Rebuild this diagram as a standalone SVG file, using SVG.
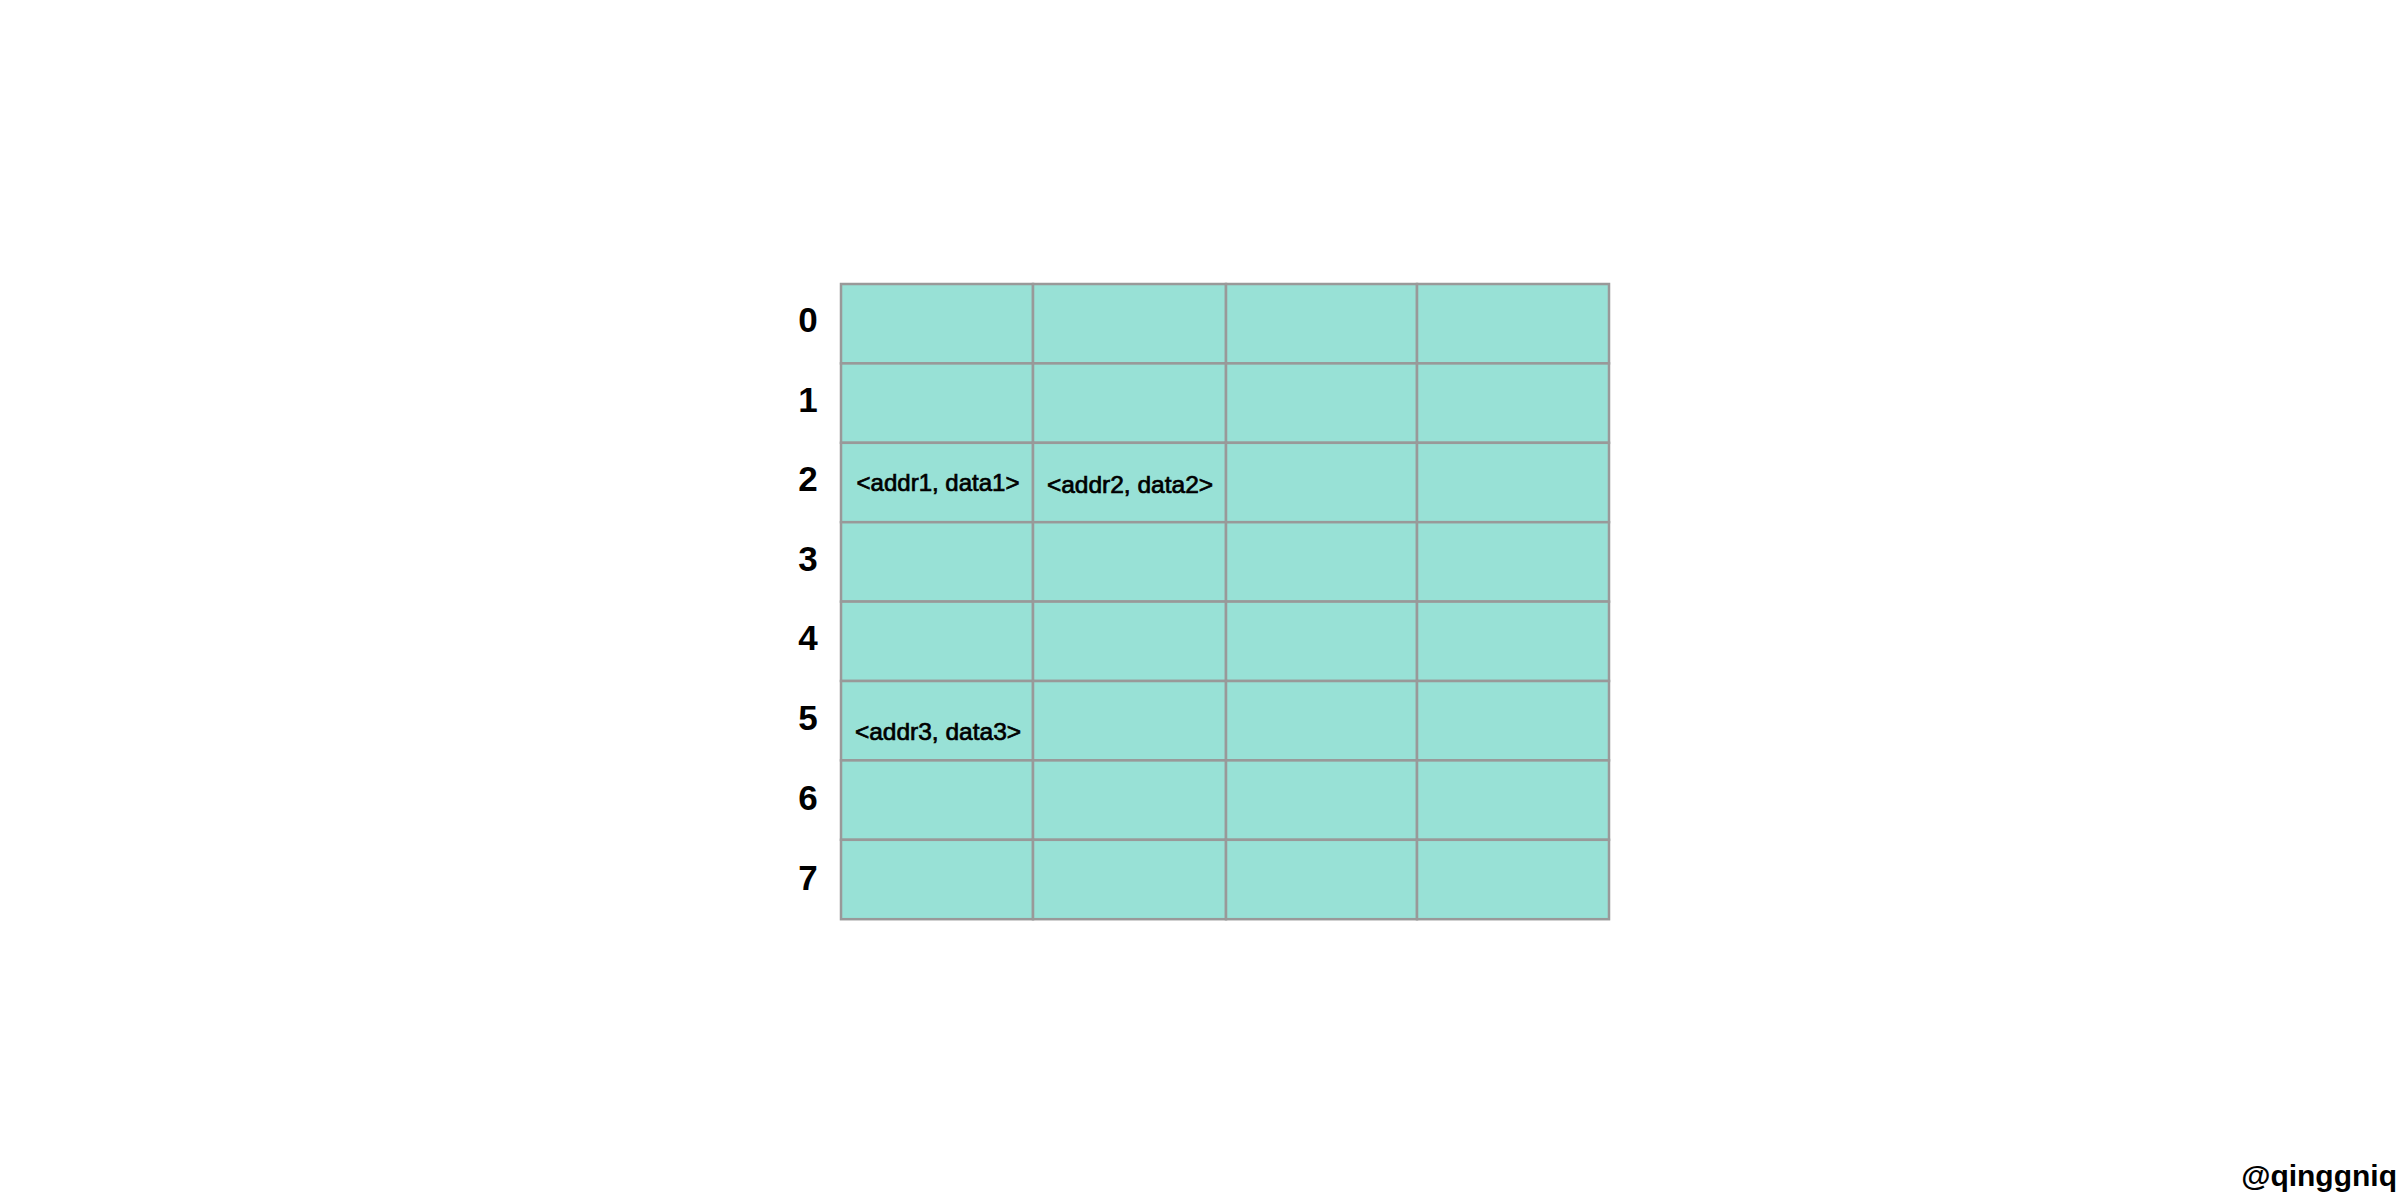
<svg xmlns="http://www.w3.org/2000/svg" width="2400" height="1202" viewBox="0 0 2400 1202">
<style>
.cell{fill:#98e1d6;stroke:#999999;stroke-width:2.5}
.idx{font-family:"Liberation Sans",Arial,sans-serif;font-size:35px;font-weight:bold;fill:#000;text-anchor:middle}
.lbl{font-family:"Liberation Sans",Arial,sans-serif;font-size:24.5px;fill:#000;stroke:#000;stroke-width:0.7;text-anchor:middle}
.wm{font-family:"Liberation Sans",Arial,sans-serif;font-size:30px;font-weight:bold;fill:#000;text-anchor:end}
</style>
<rect width="2400" height="1202" fill="#ffffff"/>
<g id="grid">
<g id="row0"><rect class="cell" x="841" y="284" width="192" height="79.4"/><rect class="cell" x="1033" y="284" width="193" height="79.4"/><rect class="cell" x="1226" y="284" width="191" height="79.4"/><rect class="cell" x="1417" y="284" width="192" height="79.4"/></g>
<g id="row1"><rect class="cell" x="841" y="363.4" width="192" height="79.4"/><rect class="cell" x="1033" y="363.4" width="193" height="79.4"/><rect class="cell" x="1226" y="363.4" width="191" height="79.4"/><rect class="cell" x="1417" y="363.4" width="192" height="79.4"/></g>
<g id="row2"><rect class="cell" x="841" y="442.8" width="192" height="79.4"/><rect class="cell" x="1033" y="442.8" width="193" height="79.4"/><rect class="cell" x="1226" y="442.8" width="191" height="79.4"/><rect class="cell" x="1417" y="442.8" width="192" height="79.4"/></g>
<g id="row3"><rect class="cell" x="841" y="522.2" width="192" height="79.4"/><rect class="cell" x="1033" y="522.2" width="193" height="79.4"/><rect class="cell" x="1226" y="522.2" width="191" height="79.4"/><rect class="cell" x="1417" y="522.2" width="192" height="79.4"/></g>
<g id="row4"><rect class="cell" x="841" y="601.6" width="192" height="79.4"/><rect class="cell" x="1033" y="601.6" width="193" height="79.4"/><rect class="cell" x="1226" y="601.6" width="191" height="79.4"/><rect class="cell" x="1417" y="601.6" width="192" height="79.4"/></g>
<g id="row5"><rect class="cell" x="841" y="681" width="192" height="79.4"/><rect class="cell" x="1033" y="681" width="193" height="79.4"/><rect class="cell" x="1226" y="681" width="191" height="79.4"/><rect class="cell" x="1417" y="681" width="192" height="79.4"/></g>
<g id="row6"><rect class="cell" x="841" y="760.4" width="192" height="79.4"/><rect class="cell" x="1033" y="760.4" width="193" height="79.4"/><rect class="cell" x="1226" y="760.4" width="191" height="79.4"/><rect class="cell" x="1417" y="760.4" width="192" height="79.4"/></g>
<g id="row7"><rect class="cell" x="841" y="839.8" width="192" height="79.4"/><rect class="cell" x="1033" y="839.8" width="193" height="79.4"/><rect class="cell" x="1226" y="839.8" width="191" height="79.4"/><rect class="cell" x="1417" y="839.8" width="192" height="79.4"/></g>
</g>
<g id="indices">
<text class="idx" x="808" y="332">0</text>
<text class="idx" x="808" y="411.5">1</text>
<text class="idx" x="808" y="491">2</text>
<text class="idx" x="808" y="570.5">3</text>
<text class="idx" x="808" y="650">4</text>
<text class="idx" x="808" y="730">5</text>
<text class="idx" x="808" y="810">6</text>
<text class="idx" x="808" y="890">7</text>
</g>
<g id="entries">
<text class="lbl" x="938" y="491" style="font-size:24px">&lt;addr1, data1&gt;</text>
<text class="lbl" x="1130" y="493">&lt;addr2, data2&gt;</text>
<text class="lbl" x="938" y="740">&lt;addr3, data3&gt;</text>
</g>
<g id="connectors"></g>
<text class="wm" x="2397" y="1186">@qinggniq</text>
</svg>
